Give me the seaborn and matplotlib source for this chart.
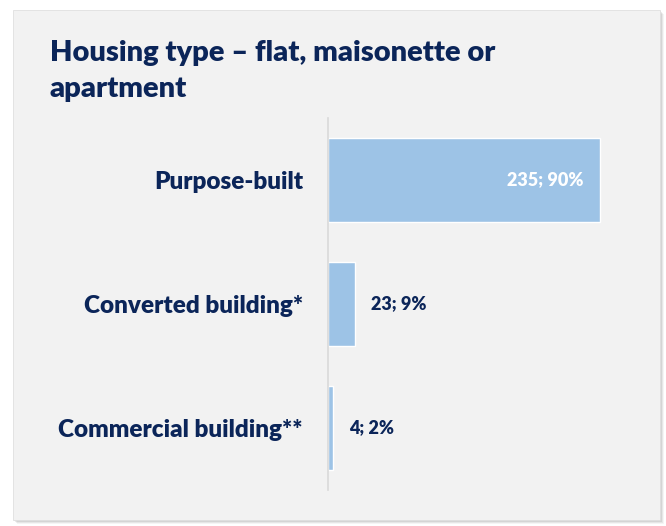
import matplotlib
matplotlib.use("Agg")
import matplotlib.pyplot as plt
import matplotlib.patches as mpatches
import seaborn as sns
import pandas as pd

# data
categories = ["Purpose-built", "Converted building*", "Commercial building**"]
counts = [235, 23, 4]
percents = [90, 9, 2]

navy = "#0b2559"
bar_color = "#9dc3e6"
panel_bg = "#f2f2f2"

sns.set_style("white")
plt.rcParams["font.family"] = ["Lato", "DejaVu Sans"]

df = pd.DataFrame({"category": categories, "count": counts})

fig = plt.figure(figsize=(6.66, 5.26), dpi=100)
fig.patch.set_facecolor("white")

# panel with soft shadow
W, H = 666, 526
for i, a in enumerate([0.10, 0.08, 0.06, 0.04]):
    off = i + 1
    fig.patches.append(mpatches.Rectangle(((13 + off) / W, 1 - (520 + off) / H), 647 / W, 510 / H,
                                          transform=fig.transFigure, facecolor="black", alpha=a,
                                          edgecolor="none", zorder=0))
fig.patches.append(mpatches.Rectangle((13 / W, 1 - 520 / H), 647 / W, 510 / H,
                                      transform=fig.transFigure, facecolor=panel_bg,
                                      edgecolor="#e0e0e0", linewidth=0.6, zorder=1))

ax = fig.add_axes([328 / W, 1 - 490 / H, 312 / W, 372 / H])
ax.set_facecolor("none")
ax.set_zorder(2)

sns.barplot(data=df, x="count", y="category", color=bar_color, width=0.67,
            saturation=1, ax=ax, orient="h")

ax.set_xlim(0, 270)
ax.set_ylim(2.5, -0.5)
ax.set_xlabel("")
ax.set_ylabel("")
ax.set_xticks([])
for s in ["top", "right", "bottom"]:
    ax.spines[s].set_visible(False)
ax.spines["left"].set_color("#d9d9d9")
ax.spines["left"].set_linewidth(1.2)
ax.tick_params(axis="y", length=0, pad=18)
for lbl in ax.get_yticklabels():
    lbl.set_fontsize(17.5)
    lbl.set_fontweight("heavy")
    lbl.set_color(navy)

for i, (c, p) in enumerate(zip(counts, percents)):
    txt = f"{c}; {p}%"
    if c > 100:
        ax.annotate(txt, (c, i), xytext=(-16, 0), textcoords="offset pixels",
                    ha="right", va="center", color="white", fontsize=13, fontweight="heavy")
    else:
        ax.annotate(txt, (c, i), xytext=(16, 0), textcoords="offset pixels",
                    ha="left", va="center", color=navy, fontsize=13, fontweight="heavy")

fig.text(50 / W, 1 - 71 / H, "Housing type \u2013 flat, maisonette or\napartment",
         ha="left", va="center", fontsize=21, fontweight="heavy", color=navy,
         linespacing=1.5, zorder=3)

fig.savefig("out.png", dpi=100)
